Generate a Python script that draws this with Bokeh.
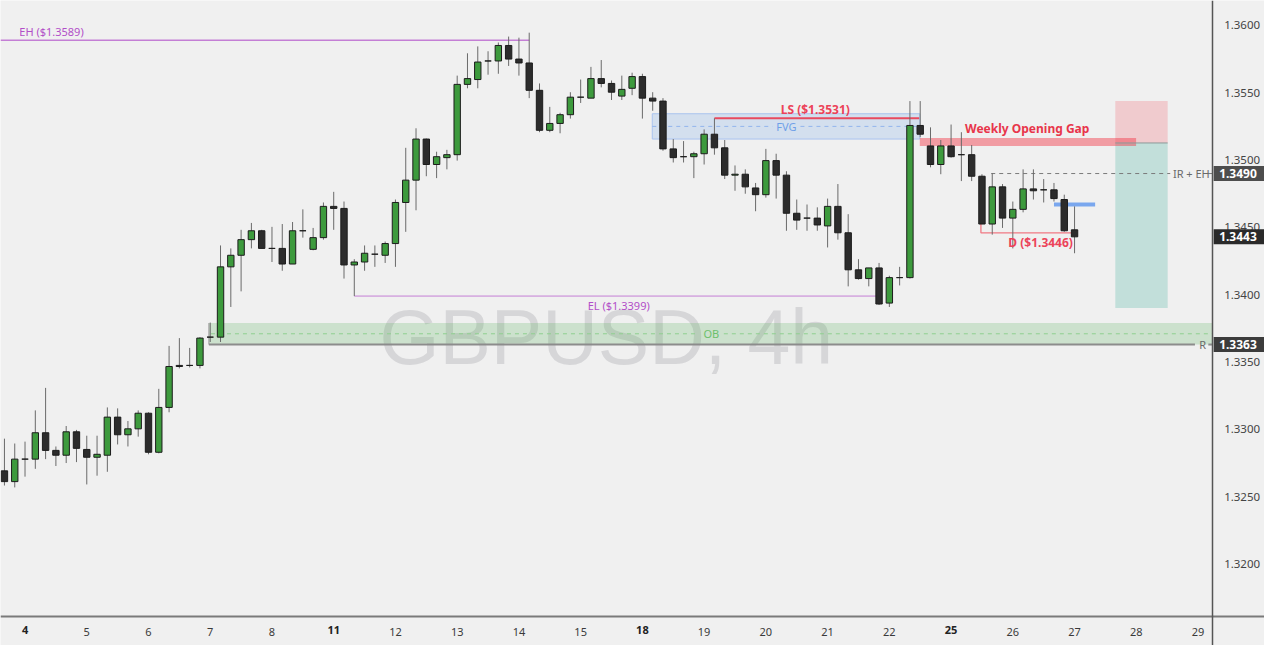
import numpy as np
from bokeh.plotting import figure
from bokeh.models import (Range1d, FixedTicker, PrintfTickFormatter, Label, ColumnDataSource,
                          LinearAxis)
from bokeh.core.properties import value
from bokeh.embed import file_html
from bokeh.resources import INLINE

# ---------------- data (GBPUSD 4h) ----------------
opens = [1.32692, 1.32612, 1.32779, 1.32779, 1.32975, 1.32844, 1.32808, 1.32982, 1.32851, 1.32793,
         1.32808, 1.33091, 1.32960, 1.33004, 1.33120, 1.32830, 1.33163, 1.33475, 1.33475, 1.33475,
         1.33685, 1.33685, 1.34207, 1.34293, 1.34409, 1.34475, 1.34344, 1.34344, 1.34228, 1.34475,
         1.34337, 1.34424, 1.34656, 1.34641, 1.34221, 1.34243, 1.34301, 1.34293, 1.34380, 1.34685,
         1.34851, 1.35156, 1.34967, 1.35018, 1.35040, 1.35562, 1.35598, 1.35736, 1.35736, 1.35851,
         1.35750, 1.35721, 1.35518, 1.35221, 1.35272, 1.35337, 1.35467, 1.35460, 1.35605, 1.35569,
         1.35475, 1.35533, 1.35620, 1.35460, 1.35438, 1.35083, 1.35025, 1.35025, 1.35047, 1.35192,
         1.35091, 1.34888, 1.34895, 1.34793, 1.34743, 1.34996, 1.34888, 1.34605, 1.34569, 1.34569,
         1.34511, 1.34656, 1.34460, 1.34185, 1.34120, 1.34199, 1.33938, 1.34127, 1.34127, 1.35257,
         1.35105, 1.34967, 1.35105, 1.35040, 1.35040, 1.34880, 1.34525, 1.34801, 1.34569, 1.34634,
         1.34786, 1.34779, 1.34779, 1.34707, 1.34482]
highs = [1.32931, 1.32895, 1.32909, 1.33141, 1.33308, 1.32873, 1.33025, 1.32996, 1.32953, 1.32953,
         1.33163, 1.33156, 1.33062, 1.33141, 1.33127, 1.33301, 1.33620, 1.33678, 1.33605, 1.33685,
         1.33793, 1.34366, 1.34344, 1.34482, 1.34533, 1.34482, 1.34504, 1.34525, 1.34540, 1.34634,
         1.34496, 1.34685, 1.34764, 1.34692, 1.34264, 1.34366, 1.34366, 1.34395, 1.34707, 1.35091,
         1.35236, 1.35160, 1.35062, 1.35076, 1.35627, 1.35793, 1.35844, 1.35808, 1.35873, 1.35917,
         1.35909, 1.35946, 1.35569, 1.35395, 1.35351, 1.35504, 1.35598, 1.35692, 1.35743, 1.35591,
         1.35627, 1.35649, 1.35641, 1.35504, 1.35460, 1.35156, 1.35141, 1.35062, 1.35228, 1.35310,
         1.35149, 1.34960, 1.34931, 1.34830, 1.35083, 1.35047, 1.34917, 1.34707, 1.34670, 1.34649,
         1.34714, 1.34822, 1.34598, 1.34264, 1.34199, 1.34236, 1.34141, 1.34207, 1.35438, 1.35438,
         1.35243, 1.35149, 1.35264, 1.35207, 1.35112, 1.34895, 1.34902, 1.34822, 1.34692, 1.34931,
         1.34931, 1.34859, 1.34830, 1.34743, 1.34656]
lows = [1.32583, 1.32569, 1.32649, 1.32707, 1.32779, 1.32728, 1.32750, 1.32757, 1.32591, 1.32656,
        1.32685, 1.32888, 1.32873, 1.32946, 1.32815, 1.32822, 1.33127, 1.33453, 1.33460, 1.33453,
        1.33649, 1.33649, 1.33909, 1.34025, 1.34344, 1.34344, 1.34243, 1.34178, 1.34228, 1.34424,
        1.34330, 1.34409, 1.34482, 1.34120, 1.33990, 1.34178, 1.34207, 1.34236, 1.34207, 1.34467,
        1.34627, 1.34880, 1.34866, 1.34931, 1.34996, 1.35533, 1.35533, 1.35634, 1.35641, 1.35699,
        1.35627, 1.35460, 1.35207, 1.35207, 1.35199, 1.35308, 1.35424, 1.35460, 1.35540, 1.35446,
        1.35446, 1.35482, 1.35308, 1.35366, 1.35069, 1.34982, 1.34982, 1.34866, 1.34967, 1.35040,
        1.34859, 1.34772, 1.34750, 1.34620, 1.34721, 1.34714, 1.34475, 1.34482, 1.34475, 1.34475,
        1.34351, 1.34409, 1.34062, 1.34112, 1.34062, 1.33924, 1.33909, 1.34069, 1.34120, 1.35170,
        1.34946, 1.34895, 1.35018, 1.34844, 1.34844, 1.34525, 1.34446, 1.34496, 1.34344, 1.34612,
        1.34707, 1.34685, 1.34692, 1.34467, 1.34308]
closes = [1.32612, 1.32779, 1.32779, 1.32975, 1.32844, 1.32808, 1.32982, 1.32859, 1.32793, 1.32815,
          1.33091, 1.32960, 1.33004, 1.33120, 1.32830, 1.33163, 1.33467, 1.33467, 1.33475, 1.33678,
          1.33685, 1.34207, 1.34293, 1.34409, 1.34475, 1.34344, 1.34344, 1.34228, 1.34475, 1.34475,
          1.34424, 1.34656, 1.34641, 1.34221, 1.34243, 1.34308, 1.34301, 1.34380, 1.34685, 1.34851,
          1.35156, 1.34967, 1.35025, 1.35040, 1.35562, 1.35605, 1.35728, 1.35736, 1.35851, 1.35750,
          1.35721, 1.35518, 1.35221, 1.35272, 1.35337, 1.35467, 1.35467, 1.35605, 1.35569, 1.35504,
          1.35525, 1.35620, 1.35460, 1.35438, 1.35083, 1.35018, 1.35025, 1.35047, 1.35192, 1.35091,
          1.34888, 1.34895, 1.34801, 1.34743, 1.34996, 1.34888, 1.34605, 1.34554, 1.34569, 1.34518,
          1.34656, 1.34460, 1.34185, 1.34120, 1.34199, 1.33931, 1.34127, 1.34127, 1.35257, 1.35192,
          1.34967, 1.35105, 1.35025, 1.35040, 1.34880, 1.34525, 1.34801, 1.34569, 1.34634, 1.34786,
          1.34772, 1.34779, 1.34714, 1.34475, 1.34430]

day_labels = ["4", "5", "6", "7", "8", "11", "12", "13", "14", "15",
              "18", "19", "20", "21", "22", "25", "26", "27", "28", "29"]
week_starts = ["4", "11", "18", "25"]
price_ticks = [1.3200, 1.3250, 1.3300, 1.3350, 1.3400, 1.3450, 1.3500, 1.3550, 1.3600]

# annotation levels (prices)
EH_PRICE = 1.3589
EL_PRICE = 1.3399
LS_PRICE = 1.3531
D_PRICE = 1.3446
IR_EH_PRICE = 1.3490
R_PRICE = 1.3363
OB_TOP = 1.3379
FVG_TOP, FVG_BOTTOM = 1.35344, 1.35156
WOG_TOP, WOG_BOTTOM = 1.35163, 1.35105
STOP_PRICE, ENTRY_PRICE, TARGET_PRICE = 1.35438, 1.35127, 1.33902
BLUE_PRICE = 1.3467
LAST_PRICE = 1.3443

# ---------------- layout ----------------
W, H = 1264, 645
X0, X1 = -0.384, 122.46          # whole canvas, in bar units
Y0, Y1 = 1.31395, 1.36185        # whole canvas, in price units
XAX = 117.37                     # where the price scale sits (bar units)
YAX = 1.316125                   # where the time scale sits (price units)
PX = (Y1 - Y0) / H               # price per pixel
BXP = (X1 - X0) / W              # bars per pixel
BG = "#f0f0f0"
FONT = "Noto Sans"

GREEN = "#3d9a3d"
DARK = "#2c2c2c"
BORDER = "#1c1c1c"
WICK = "#6a6a6a"
PURPLE_T = "#b24fc8"
PURPLE_L = "#c47fd5"
RED = "#ec4359"

p = figure(width=W, height=H, x_range=Range1d(X0, X1), y_range=Range1d(Y0, Y1),
           x_axis_location=None, y_axis_location=None,
           output_backend="svg", toolbar_location=None,
           min_border_left=0, min_border_top=0, min_border_right=0, min_border_bottom=0,
           background_fill_color=BG, border_fill_color=BG)
p.outline_line_color = None
p.xgrid.visible = False
p.ygrid.visible = False

# axes drawn inside the canvas at fixed positions
ticks = [2 + 6 * k for k in range(len(day_labels))]
xaxis = LinearAxis(fixed_location=YAX, ticker=FixedTicker(ticks=ticks))
xaxis.major_label_overrides = {t: ("" if d in week_starts else d) for t, d in zip(ticks, day_labels)}
xaxis.major_tick_line_color = None
xaxis.minor_tick_line_color = None
xaxis.axis_line_color = "#7a7a7a"
xaxis.axis_line_width = 2
xaxis.major_label_text_color = "#3a3a3a"
xaxis.major_label_text_font = FONT
xaxis.major_label_text_font_size = "11px"
xaxis.major_label_standoff = 6
p.add_layout(xaxis, "below")

yaxis = LinearAxis(fixed_location=XAX, ticker=FixedTicker(ticks=price_ticks),
                   formatter=PrintfTickFormatter(format="%.4f"))
yaxis.major_tick_line_color = None
yaxis.minor_tick_line_color = None
yaxis.axis_line_color = "#555555"
yaxis.axis_line_width = 1.5
yaxis.major_label_text_color = "#444444"
yaxis.major_label_text_font = FONT
yaxis.major_label_text_font_size = "11.5px"
yaxis.major_label_standoff = 6
p.add_layout(yaxis, "right")

# watermark
p.text(x=[58.5], y=[1.33685], text=["GBPUSD, 4h"], text_font=value("Liberation Sans"),
       text_font_size="77px", text_color="#d6d6d8", text_align="center",
       text_baseline="alphabetic")

# label anchor positions (bar units)
FVG_LABEL_X, OB_LABEL_X = 76.0, 68.7

# zones
OB_LEFT = 19.87
OB_MID = (R_PRICE + OB_TOP) / 2
p.quad(left=[OB_LEFT], right=[XAX], bottom=[R_PRICE], top=[OB_TOP],
       fill_color="#4caf50", fill_alpha=0.22, line_color=None)
p.multi_line(xs=[[OB_LEFT + 0.2, OB_LABEL_X - 12.5 * BXP], [OB_LABEL_X + 12.5 * BXP, XAX]],
             ys=[[OB_MID] * 2, [OB_MID] * 2], line_color="#8fcf8f", line_dash="4 4", line_width=1)
p.segment(x0=[OB_LEFT], x1=[OB_LEFT], y0=[R_PRICE], y1=[OB_TOP], line_color="#9a9a9a", line_width=1)

FVG_MID = (FVG_TOP + FVG_BOTTOM) / 2
p.quad(left=[62.96], right=[88.96], bottom=[FVG_BOTTOM], top=[FVG_TOP],
       fill_color="#2f7fe6", fill_alpha=0.15, line_color="#a9c4ef", line_width=1)
p.multi_line(xs=[[62.96, FVG_LABEL_X - 14 * BXP], [FVG_LABEL_X + 14 * BXP, 88.96]],
             ys=[[FVG_MID] * 2, [FVG_MID] * 2], line_color="#92b5ec", line_dash="4 4", line_width=1)

p.quad(left=[107.96], right=[113.05], bottom=[ENTRY_PRICE], top=[STOP_PRICE],
       fill_color="#f23645", fill_alpha=0.2, line_color=None)
p.quad(left=[107.96], right=[113.05], bottom=[TARGET_PRICE], top=[ENTRY_PRICE],
       fill_color="#089981", fill_alpha=0.2, line_color=None)
p.quad(left=[88.96], right=[109.98], bottom=[WOG_BOTTOM], top=[WOG_TOP],
       fill_color="#f23645", fill_alpha=0.45, line_color=None)
p.line([107.96, 113.05], [ENTRY_PRICE] * 2, line_color="#8a9a98", line_width=1)

# lines
p.line([X0, 51], [EH_PRICE] * 2, line_color=PURPLE_L, line_width=1.6)
p.line([34, 85], [EL_PRICE] * 2, line_color=PURPLE_L, line_width=1)
p.line([69, 88.9], [LS_PRICE] * 2, line_color="#e84a5f", line_width=2)
p.line([OB_LEFT, 115.7], [R_PRICE] * 2, line_color="#8c8c8c", line_width=2)
p.line([117.0, XAX], [R_PRICE] * 2, line_color="#8c8c8c", line_width=2)
p.line([95.9, 113.3], [IR_EH_PRICE] * 2, line_color="#7a7a7a", line_dash="4 4", line_width=1)
p.line([116.9, XAX], [IR_EH_PRICE] * 2, line_color="#7a7a7a", line_width=1)
p.line([94.9, 94.9, 103.7], [closes[95], D_PRICE, D_PRICE], line_color="#f07883", line_width=1.3)
p.line([102.0, 106.0], [BLUE_PRICE] * 2, line_color="#7aa7ee", line_width=4)

# candles
idx = np.arange(len(opens))
o = np.array(opens)
c = np.array(closes)
inc = c > o
src = ColumnDataSource(dict(x=idx, top=np.maximum(o, c), bottom=np.minimum(o, c),
                            high=highs, low=lows,
                            fill=np.where(inc, GREEN, DARK).tolist()))
p.segment(x0="x", y0="high", x1="x", y1="low", source=src, line_color=WICK, line_width=1)
p.vbar(x="x", width=0.62, top="top", bottom="bottom", source=src,
       fill_color="fill", line_color=BORDER, line_width=1)


def lab(x, y, text, color, size="11px", bold=False, align="center", baseline="middle"):
    p.add_layout(Label(x=x, y=y, text=text, text_color=color, text_font=FONT,
                       text_font_size=size, text_font_style="bold" if bold else "normal",
                       text_align=align, text_baseline=baseline))


lab(1.44, EH_PRICE + 8.5 * PX, "EH ($1.3589)", PURPLE_T, align="left")
lab(59.7, EL_PRICE - 9.5 * PX, "EL ($1.3399)", PURPLE_T)
lab(78.8, LS_PRICE + 9 * PX, "LS ($1.3531)", RED, size="12px", bold=True)
lab(FVG_LABEL_X, FVG_MID, "FVG", "#6f9fe8")
lab(OB_LABEL_X, OB_MID, "OB", "#6cc06c")
lab(99.4, WOG_TOP + 10 * PX, "Weekly Opening Gap", "#e8354a", size="12px", bold=True)
lab(100.7, D_PRICE - 10 * PX, "D ($1.3446)", RED, size="12px", bold=True)
lab(115.35, IR_EH_PRICE, "IR + EH", "#6a6a6a")
lab(116.45, R_PRICE, "R", "#6a6a6a")

# bold week-start day labels on the time scale
for t, d in zip(ticks, day_labels):
    if d in week_starts:
        lab(t, YAX - 13.7 * PX, d, "#222222", bold=True)

# price boxes on the price scale (drawn above the scale's labels)
box_prices = [IR_EH_PRICE, LAST_PRICE, R_PRICE]
box_colors = ["#4d4d4d", "#2a2a2a", "#3c3c3c"]
p.quad(left=[XAX + 0.15] * 3, right=[X1] * 3,
       bottom=[v - 7.5 * PX for v in box_prices], top=[v + 7.5 * PX for v in box_prices],
       fill_color=box_colors, line_color=None, level="annotation")
p.text(x=[XAX + 7 * BXP] * 3, y=box_prices, text=[f"{v:.4f}" for v in box_prices],
       text_font=value(FONT), text_font_size="12px", text_font_style="bold",
       text_color="white", text_align="left", text_baseline="middle", level="overlay")

open("out.html", "w").write(file_html(p, INLINE))
